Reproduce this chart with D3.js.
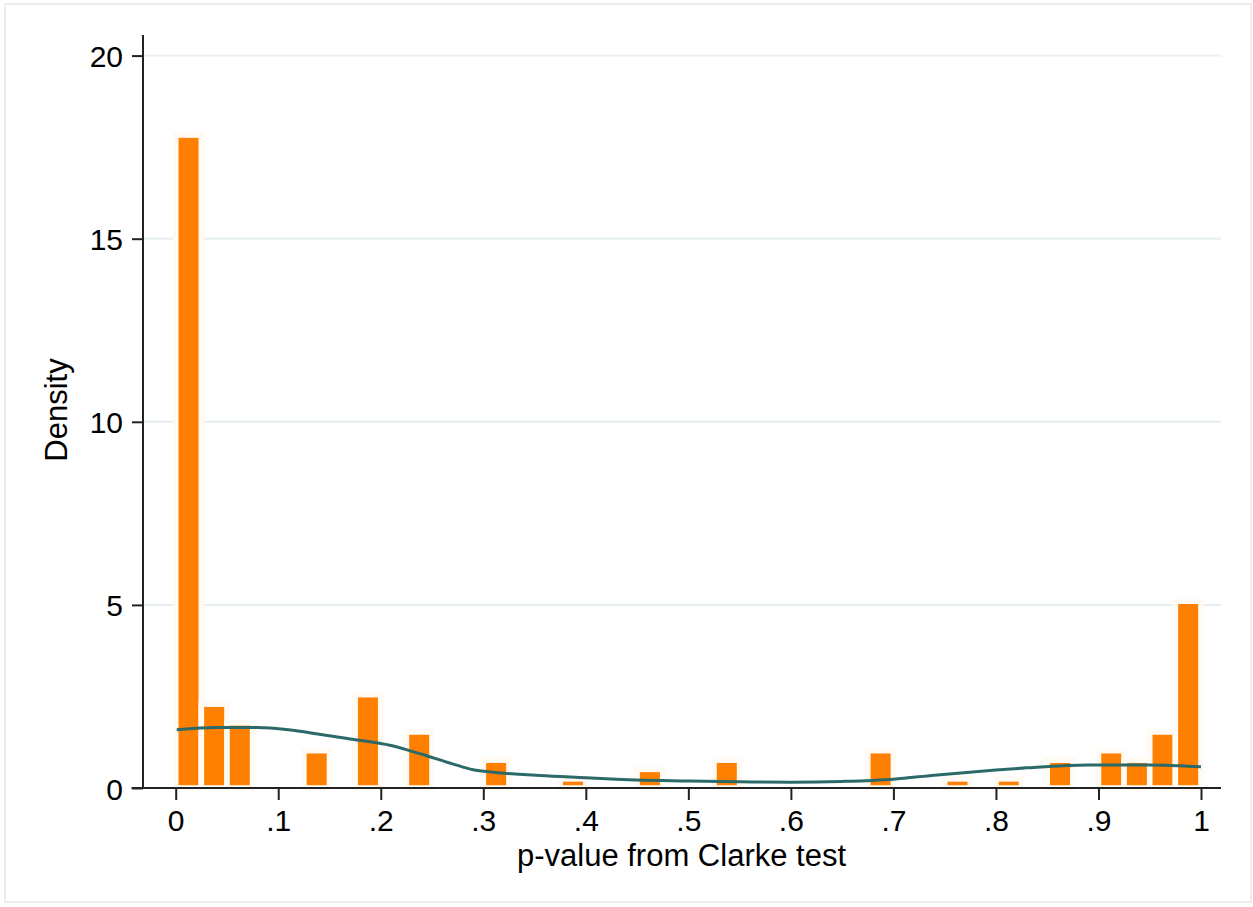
<!DOCTYPE html>
<html>
<head>
    <meta charset="utf-8">
    <script src="https://d3js.org/d3.v7.min.js"></script>
    <style>
        body { margin: 0; background: #ffffff; }
        #chart .font {
            font-family: "Liberation Sans", Arial, Helvetica, sans-serif;
            fill: #000000;
        }
        #chart .tick-label { font-size: 30px; }
        #chart .axis-title { font-size: 31px; }
        #chart .grid { stroke: #e8eff0; stroke-width: 2; }
        #chart .axis-line { stroke: #222222; stroke-width: 2; }
        #chart .bar { fill: #ff7f00; stroke: #fffaf4; stroke-width: 5.6; }
        #chart .kde { fill: none; stroke: #2b6a68; stroke-width: 3; }
    </style>
</head>
<body>
<script>
    const SVG_WIDTH = 1253;
    const SVG_HEIGHT = 907;

    // histogram bins (left edge of each non-empty bin) and densities
    const BIN_WIDTH = 0.025;
    const BIN_LEFT = [0, 0.025, 0.05, 0.125, 0.175, 0.225, 0.3, 0.375, 0.45,
                      0.525, 0.675, 0.75, 0.8, 0.85, 0.9, 0.925, 0.95, 0.975];
    const BIN_DENSITY = [17.83, 2.29, 1.78, 1.02, 2.55, 1.53, 0.76, 0.25, 0.51,
                         0.76, 1.02, 0.25, 0.25, 0.76, 1.02, 0.76, 1.53, 5.10];

    // kernel density estimate
    const KDE_X = [0.001, 0.04, 0.08, 0.11, 0.14, 0.17, 0.21, 0.24, 0.27, 0.29,
                   0.31, 0.355, 0.40, 0.43, 0.50, 0.55, 0.60, 0.65, 0.70, 0.74,
                   0.80, 0.83, 0.89, 0.95, 1.0];
    const KDE_Y = [1.59, 1.65, 1.65, 1.59, 1.47, 1.34, 1.16, 0.92, 0.66, 0.50,
                   0.43, 0.34, 0.28, 0.24, 0.19, 0.17, 0.16, 0.18, 0.24, 0.35,
                   0.49, 0.55, 0.63, 0.63, 0.58];

    const X_TICKS = [0, 0.1, 0.2, 0.3, 0.4, 0.5, 0.6, 0.7, 0.8, 0.9, 1];
    const X_TICK_LABELS = ["0", ".1", ".2", ".3", ".4", ".5", ".6", ".7", ".8", ".9", "1"];
    const Y_TICKS = [0, 5, 10, 15, 20];
    const X_TITLE = "p-value from Clarke test";
    const Y_TITLE = "Density";

    const PLOT_LEFT = 143;
    const PLOT_RIGHT = 1221;
    const PLOT_TOP = 35;
    const AXIS_Y = 788;

    var svg = d3.select("body").append("svg")
        .attr("id", "chart")
        .attr("width", SVG_WIDTH)
        .attr("height", SVG_HEIGHT);

    // outer frame
    svg.append("rect")
        .attr("x", 5).attr("y", 4)
        .attr("width", 1246).attr("height", 898)
        .attr("fill", "#ffffff")
        .attr("stroke", "#eceeee")
        .attr("stroke-width", 2);

    var xScale = d3.scaleLinear().domain([0, 1]).range([175.7, 1201]);
    var yScale = d3.scaleLinear().domain([0, 20]).range([AXIS_Y, 55.6]);

    // gridlines
    svg.append("g")
        .selectAll("line")
        .data(Y_TICKS.filter(function(d) { return d > 0; }))
        .enter()
        .append("line")
        .attr("class", "grid")
        .attr("x1", PLOT_LEFT)
        .attr("x2", PLOT_RIGHT)
        .attr("y1", function(d) { return yScale(d); })
        .attr("y2", function(d) { return yScale(d); });

    // bars
    svg.append("g")
        .selectAll("rect")
        .data(BIN_LEFT)
        .enter()
        .append("rect")
        .attr("class", "bar")
        .attr("x", function(d) { return xScale(d); })
        .attr("width", function(d) { return xScale(d + BIN_WIDTH) - xScale(d); })
        .attr("y", function(d, i) { return yScale(BIN_DENSITY[i]); })
        .attr("height", function(d, i) { return yScale(0) - yScale(BIN_DENSITY[i]); });

    // density curve
    var line = d3.line()
        .x(function(d) { return xScale(d[0]); })
        .y(function(d) { return yScale(d[1]); })
        .curve(d3.curveMonotoneX);
    svg.append("path")
        .attr("class", "kde")
        .attr("d", line(d3.zip(KDE_X, KDE_Y)));

    // axis lines
    svg.append("line")
        .attr("class", "axis-line")
        .attr("x1", PLOT_LEFT).attr("x2", PLOT_LEFT)
        .attr("y1", PLOT_TOP).attr("y2", AXIS_Y);
    svg.append("line")
        .attr("class", "axis-line")
        .attr("x1", 131.5).attr("x2", PLOT_RIGHT)
        .attr("y1", AXIS_Y).attr("y2", AXIS_Y);

    // y axis
    var yAxis = svg.append("g")
        .attr("transform", "translate(" + PLOT_LEFT + ",0)")
        .call(d3.axisLeft(yScale)
            .tickValues(Y_TICKS)
            .tickFormat(d3.format("d"))
            .tickSize(11)
            .tickPadding(9));
    yAxis.select(".domain").remove();
    yAxis.selectAll(".tick line").attr("class", "axis-line");
    yAxis.selectAll("text")
        .attr("class", "font tick-label")
        .attr("dy", null)
        .attr("y", 11);

    // x axis
    var xAxis = svg.append("g")
        .attr("transform", "translate(0," + AXIS_Y + ")")
        .call(d3.axisBottom(xScale)
            .tickValues(X_TICKS)
            .tickFormat(function(d, i) { return X_TICK_LABELS[i]; })
            .tickSize(12));
    xAxis.select(".domain").remove();
    xAxis.selectAll(".tick line").attr("class", "axis-line");
    xAxis.selectAll("text")
        .attr("class", "font tick-label")
        .attr("dy", null)
        .attr("y", 43);
    svg.selectAll(".tick text").attr("fill", null);

    // axis titles
    svg.append("text")
        .attr("class", "font axis-title")
        .attr("x", 681.5)
        .attr("y", 866)
        .attr("text-anchor", "middle")
        .text(X_TITLE);
    svg.append("text")
        .attr("class", "font axis-title")
        .attr("transform", "translate(67,410) rotate(-90)")
        .attr("text-anchor", "middle")
        .text(Y_TITLE);
</script>
</body>
</html>
